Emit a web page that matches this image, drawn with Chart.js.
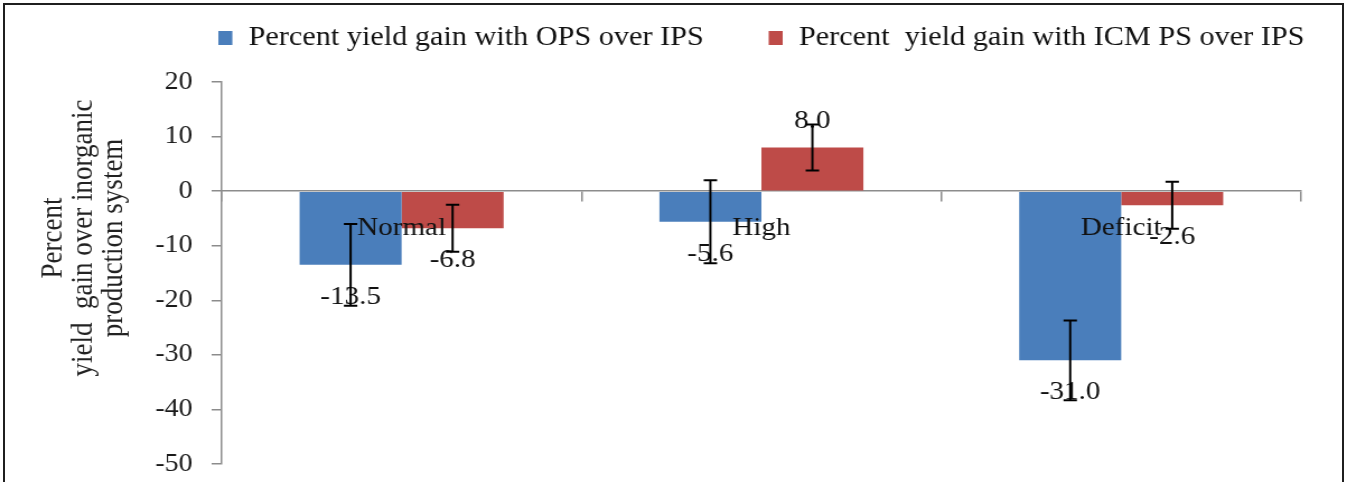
<!DOCTYPE html>
<html lang="en">
<head>
    <meta charset="UTF-8">
    <title>Percent yield gain over inorganic production system</title>
    <style>
        *{box-sizing:border-box}
        html,body{margin:0;padding:0;background:#fff}
        #page{position:relative;width:1347px;height:482px;overflow:hidden;background:#fff}
        /* the figure is drawn a little narrow and widened to the page width */
        #chart-box{position:absolute;left:0;top:0;width:1203px;height:482px;transform:scaleX(1.1197);transform-origin:0 0}
        #frame{position:absolute;left:3px;top:3px;width:1341px;height:520px;border:2px solid #1f1f1f}
    </style>
    <script src="https://cdn.jsdelivr.net/npm/chart.js@4.4.1/dist/chart.umd.min.js"></script>
</head>
<body>
    <div id="page">
        <div id="chart-box"><canvas id="gain-chart"></canvas></div>
        <div id="frame"></div>
    </div>

    <script>
        // Rainfall years and the two yield gain series (with +/- error)
        const categories = ['Normal', 'High', 'Deficit'];
        const seriesNames = ['Percent yield gain with OPS over IPS', 'Percent  yield gain with ICM PS over IPS'];
        const opsGain = [-13.5, -5.6, -31.0];
        const icmGain = [-6.8, 8.0, -2.6];
        const opsErr = [7.5, 7.6, 7.3];
        const icmErr = [4.3, 4.2, 4.3];
        const yTitle = ['Percent', 'yield  gain over inorganic', 'production system'];
        const yMin = -50;
        const yMax = 20;
        const yStep = 10;

        const FONT = '"Liberation Serif", "Times New Roman", serif';
        const colors = ['#4A7EBB', '#BE4B48'];
        const errors = [opsErr, icmErr];
        const axisColor = '#8c8c8c';

        // Value labels past the bar ends, then the error bars on top
        const barExtrasPlugin = {
            id: 'barExtras',
            afterDatasetsDraw(chart) {
                const ctx = chart.ctx;
                const y = chart.scales.y;
                ctx.save();
                ctx.font = '26px ' + FONT;
                ctx.fillStyle = '#111';
                ctx.textAlign = 'center';
                ctx.textBaseline = 'middle';
                chart.data.datasets.forEach((ds, i) => {
                    chart.getDatasetMeta(i).data.forEach((bar, j) => {
                        const v = ds.data[j];
                        const ly = y.getPixelForValue(v) + (v < 0 ? 32 : -26);
                        ctx.fillText(v.toFixed(1), bar.x, ly);
                    });
                });
                ctx.strokeStyle = '#000';
                ctx.lineWidth = 2;
                chart.data.datasets.forEach((ds, i) => {
                    chart.getDatasetMeta(i).data.forEach((bar, j) => {
                        const v = ds.data[j];
                        const e = errors[i][j];
                        const top = y.getPixelForValue(v + e);
                        const bot = y.getPixelForValue(v - e);
                        ctx.beginPath();
                        ctx.moveTo(bar.x, top);
                        ctx.lineTo(bar.x, bot);
                        ctx.moveTo(bar.x - 6, top);
                        ctx.lineTo(bar.x + 6, top);
                        ctx.moveTo(bar.x - 6, bot);
                        ctx.lineTo(bar.x + 6, bot);
                        ctx.stroke();
                    });
                });
                ctx.restore();
            }
        };

        // Legend row centred over the plot area, and the three-line axis title
        const textPlugin = {
            id: 'chartText',
            afterDraw(chart) {
                const ctx = chart.ctx;
                const area = chart.chartArea;
                ctx.save();
                ctx.font = '27px ' + FONT;
                ctx.textBaseline = 'middle';
                ctx.textAlign = 'left';
                const gap = 58;
                const widths = seriesNames.map(n => 27 + ctx.measureText(n).width);
                const total = widths[0] + gap + widths[1];
                let x = (area.left + area.right) / 2 - total / 2;
                seriesNames.forEach((name, i) => {
                    ctx.fillStyle = colors[i];
                    ctx.fillRect(x, 31, 12.5, 14);
                    ctx.fillStyle = '#111';
                    ctx.fillText(name, x + 27, 38);
                    x += widths[i] + gap;
                });

                ctx.translate(75, 238);
                ctx.rotate(-Math.PI / 2);
                ctx.textAlign = 'center';
                ctx.fillStyle = '#222';
                yTitle.forEach((line, i) => {
                    ctx.fillText(line, 0, (i - 1) * 27);
                });
                ctx.restore();
            }
        };

        const chart = new Chart(document.getElementById('gain-chart'), {
            type: 'bar',
            data: {
                labels: categories,
                datasets: [{
                    label: seriesNames[0],
                    data: opsGain,
                    backgroundColor: colors[0]
                }, {
                    label: seriesNames[1],
                    data: icmGain,
                    backgroundColor: colors[1]
                }]
            },
            options: {
                responsive: true,
                maintainAspectRatio: false,
                animation: false,
                categoryPercentage: 0.567,
                barPercentage: 1.0,
                layout: {
                    padding: {top: 82, right: 41, bottom: 18, left: 0}
                },
                plugins: {
                    legend: {display: false},
                    tooltip: {enabled: false}
                },
                scales: {
                    x: {
                        position: {y: 0},
                        afterFit(scale) {
                            // drawn along the zero line, so it takes no room at the bottom
                            scale.height = 0;
                            scale.paddingTop = 0;
                            scale.paddingBottom = 0;
                        },
                        grid: {
                            offset: true,
                            drawOnChartArea: false,
                            drawTicks: true,
                            tickLength: 10,
                            color: axisColor,
                            lineWidth: 1.5
                        },
                        border: {color: axisColor, width: 1.5},
                        ticks: {
                            z: 1,
                            padding: 11,
                            color: '#111',
                            font: {family: FONT, size: 26}
                        }
                    },
                    y: {
                        min: yMin,
                        max: yMax,
                        afterFit(scale) {
                            scale.width = 198;
                            scale.paddingBottom = 0;
                        },
                        grid: {
                            drawOnChartArea: false,
                            drawTicks: true,
                            tickLength: 9,
                            color: axisColor,
                            lineWidth: 1.5
                        },
                        border: {color: axisColor, width: 1.5},
                        ticks: {
                            stepSize: yStep,
                            padding: 17,
                            color: '#1a1a1a',
                            font: {family: FONT, size: 25}
                        }
                    }
                }
            },
            plugins: [barExtrasPlugin, textPlugin]
        });
    </script>
</body>
</html>
